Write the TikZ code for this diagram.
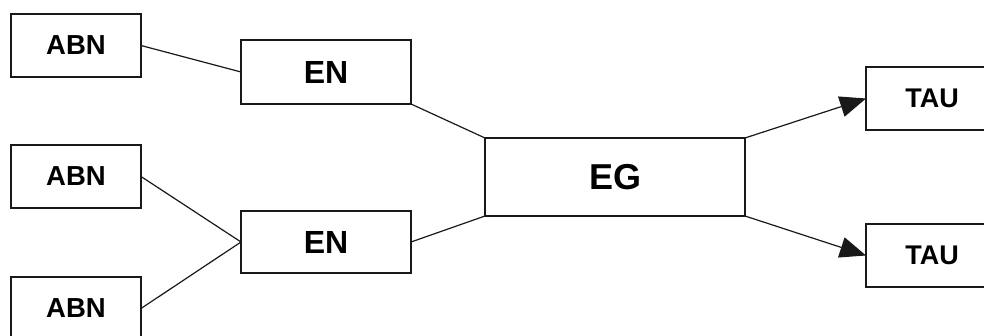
\documentclass[tikz,border=0pt]{standalone}
\usepackage{fontspec}
\setmainfont{Liberation Sans}
\usetikzlibrary{arrows.meta}
\begin{document}
\begin{tikzpicture}[x=1pt,y=-1pt,
  box/.style={draw=black!90,line width=1.2pt,fill=white,inner sep=0pt,outer sep=0pt,font=\bfseries},
  smallbox/.style={box,minimum width=130pt,minimum height=63pt},
  enbox/.style={box,minimum width=170pt,minimum height=64pt},
  egbox/.style={box,minimum width=260pt,minimum height=78pt},
  taubox/.style={box,minimum width=132pt,minimum height=63pt},
  link/.style={draw=black!90,line width=1.2pt},
  arrowlink/.style={link,-{Triangle[length=26pt,width=21pt]}}]
\clip (0,0) rectangle (984,336);
\fill[white] (0,0) rectangle (984,336);
\node[smallbox,font=\bfseries\fontsize{27.5}{30}\selectfont] (abn1) at (76,45.5) {ABN};
\node[smallbox,font=\bfseries\fontsize{27.5}{30}\selectfont] (abn2) at (76,176.5) {ABN};
\node[smallbox,font=\bfseries\fontsize{27.5}{30}\selectfont] (abn3) at (76,308.5) {ABN};
\node[enbox,font=\bfseries\fontsize{32}{36}\selectfont] (en1) at (326,72) {EN};
\node[enbox,minimum height=62pt,font=\bfseries\fontsize{32}{36}\selectfont] (en2) at (326,242) {EN};
\node[egbox,font=\bfseries\fontsize{36}{40}\selectfont] (eg) at (615,177) {EG};
\node[taubox,font=\bfseries\fontsize{27}{30}\selectfont] (tau1) at (932,98.5) {TAU};
\node[taubox,font=\bfseries\fontsize{27}{30}\selectfont] (tau2) at (932,255.5) {TAU};
\draw[link] (abn1.east) -- (en1.west);
\draw[link] (en1.south east) -- (eg.north west);
\draw[link] (abn2.east) -- (en2.west);
\draw[link] (abn3.east) -- (en2.west);
\draw[link] (en2.east) -- (eg.south west);
\draw[arrowlink] (eg.north east) -- (tau1.west);
\draw[arrowlink] (eg.south east) -- (tau2.west);
\end{tikzpicture}
\end{document}
